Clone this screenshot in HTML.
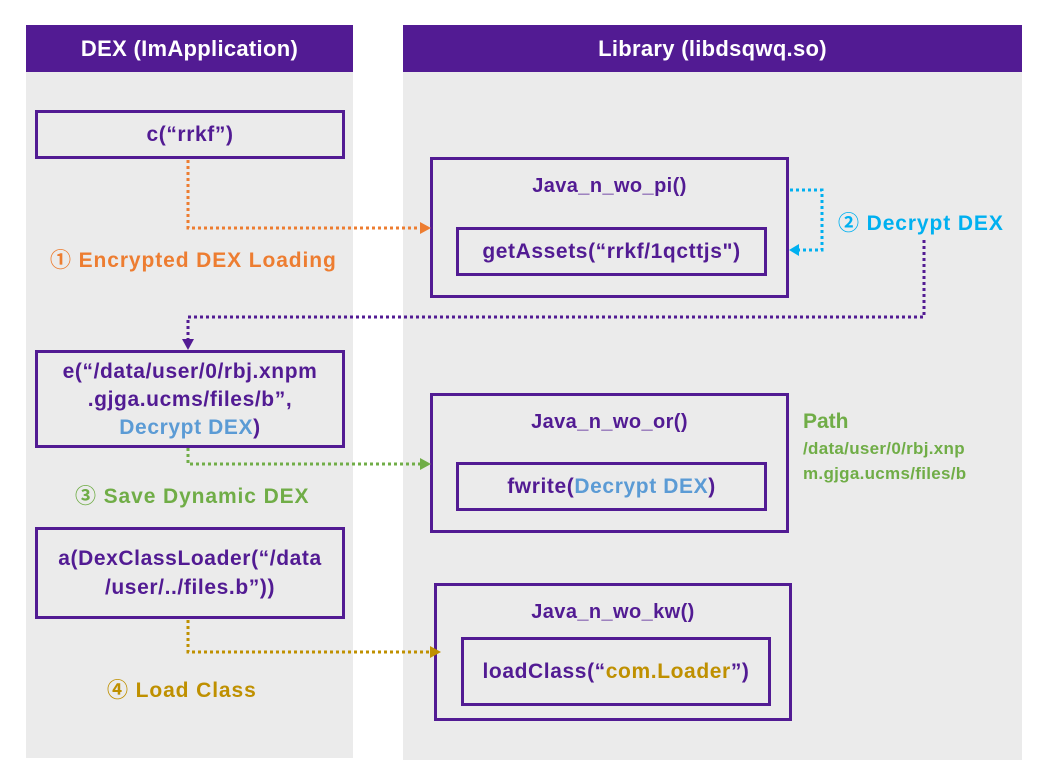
<!DOCTYPE html>
<html><head><meta charset="utf-8"><style>
body{margin:0;width:1054px;height:778px;background:#fff;position:relative;overflow:hidden;font-family:"Liberation Sans","Noto Sans CJK KR",sans-serif;font-weight:bold}
div{position:absolute;box-sizing:border-box}
.panel{background:#ebebeb}
.hdr{background:#521b93;color:#fff;font-size:22px;text-align:center;line-height:47px;letter-spacing:0.3px}
.box{border:3px solid #521b93;color:#521b93;font-size:21px;text-align:center;letter-spacing:0.6px;white-space:nowrap}
.t{color:#521b93;font-size:20px;text-align:center;letter-spacing:0.4px}
.lbl{font-size:21px;white-space:nowrap;letter-spacing:0.9px}
svg{position:absolute;left:0;top:0}
</style></head><body>
<div class="panel" style="left:26px;top:25px;width:327px;height:733px"></div>
<div class="panel" style="left:403px;top:25px;width:619px;height:735px"></div>
<div class="hdr" style="left:26px;top:25px;width:327px;height:47px">DEX (ImApplication)</div>
<div class="hdr" style="left:403px;top:25px;width:619px;height:47px">Library (libdsqwq.so)</div>

<div class="box" style="left:35px;top:110px;width:310px;height:49px;line-height:43px">c(“rrkf”)</div>
<div class="box" style="left:430px;top:157px;width:359px;height:141px"></div>
<div class="t" style="left:430px;top:175px;width:359px">Java_n_wo_pi()</div>
<div class="box" style="left:456px;top:227px;width:311px;height:49px;line-height:43px">getAssets(“rrkf/1qcttjs")</div>

<div class="box" style="left:35px;top:350px;width:310px;height:98px;line-height:28px;padding-top:5px">e(“/data/user/0/rbj.xnpm<br>.gjga.ucms/files/b”,<br><span style="color:#5b9bd5">Decrypt DEX</span>)</div>
<div class="box" style="left:430px;top:393px;width:359px;height:140px"></div>
<div class="t" style="left:430px;top:411px;width:359px">Java_n_wo_or()</div>
<div class="box" style="left:456px;top:462px;width:311px;height:49px;line-height:43px">fwrite(<span style="color:#5b9bd5">Decrypt DEX</span>)</div>

<div class="box" style="left:35px;top:527px;width:310px;height:92px;line-height:29px;padding-top:14px">a(DexClassLoader(“/data<br>/user/../files.b”))</div>
<div class="box" style="left:434px;top:583px;width:358px;height:138px"></div>
<div class="t" style="left:434px;top:601px;width:358px">Java_n_wo_kw()</div>
<div class="box" style="left:461px;top:637px;width:310px;height:69px;line-height:63px">loadClass(“<span style="color:#bf9000">com.Loader</span>”)</div>

<div class="lbl" style="left:50px;top:244px;color:#ed7d31">① Encrypted DEX Loading</div>
<div class="lbl" style="left:838px;top:207px;color:#00b0f0">② Decrypt DEX</div>
<div class="lbl" style="left:75px;top:480px;color:#70ad47">③ Save Dynamic DEX</div>
<div class="lbl" style="left:107px;top:674px;color:#bf9000">④ Load Class</div>
<div style="left:803px;top:410px;color:#70ad47;font-size:21px">Path</div>
<div style="left:803px;top:436px;color:#70ad47;font-size:17px;line-height:25px;letter-spacing:0.3px">/data/user/0/rbj.xnp<br>m.gjga.ucms/files/b</div>

<svg width="1054" height="778">
<g fill="none" stroke-width="3" stroke-dasharray="3 3">
<path d="M188 160 V228 H420" stroke="#ed7d31"/>
<path d="M790 190 H822 V250 H798" stroke="#00b0f0"/>
<path d="M924 240 V317 H188 V340" stroke="#521b93"/>
<path d="M188 448 V464 H420" stroke="#70ad47"/>
<path d="M188 620 V652 H430" stroke="#bf9000"/>
</g>
<polygon points="420,222 431,228 420,234" fill="#ed7d31"/>
<polygon points="799,244 789,250 799,256" fill="#00b0f0"/>
<polygon points="182,339 188,350 194,339" fill="#521b93"/>
<polygon points="420,458 431,464 420,470" fill="#70ad47"/>
<polygon points="430,646 441,652 430,658" fill="#bf9000"/>
</svg>
</body></html>
